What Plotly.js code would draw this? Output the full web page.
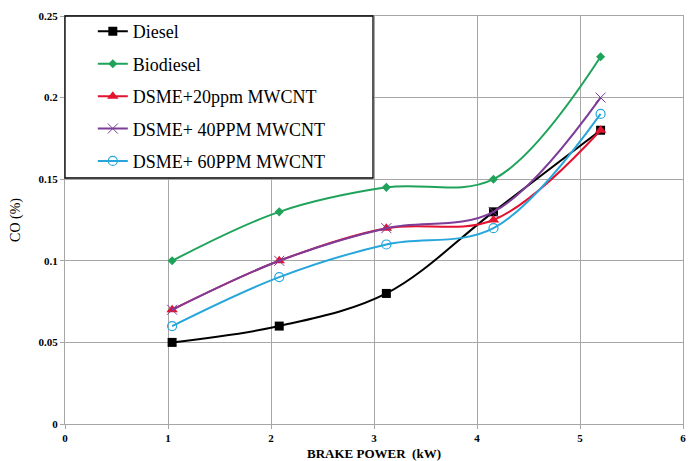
<!DOCTYPE html>
<html>
<head>
<meta charset="utf-8">
<script src="https://cdn.plot.ly/plotly-3.0.1.min.js"></script>
<style>html,body{margin:0;padding:0;background:#fff;}#chart{width:694px;height:461px;}</style>
</head>
<body>
<div id="chart"></div>
<script>
var brakePower = [1.04, 2.08, 3.12, 4.16, 5.2];
var diesel = [0.05, 0.06, 0.08, 0.13, 0.18];
var biodiesel = [0.1, 0.13, 0.145, 0.15, 0.225];
var dsme20 = [0.07, 0.1, 0.12, 0.125, 0.18];
var dsme40 = [0.07, 0.1, 0.12, 0.13, 0.2];
var dsme60 = [0.06, 0.09, 0.11, 0.12, 0.19];
var seriesNames = ['Diesel', 'Biodiesel', 'DSME+20ppm MWCNT', 'DSME+ 40PPM MWCNT', 'DSME+ 60PPM MWCNT'];
var xTickVals = [0, 1, 2, 3, 4, 5, 6];
var yTickVals = [0, 0.05, 0.1, 0.15, 0.2, 0.25];
var yTickText = ['0', '0.05', '0.1', '0.15', '0.2', '0.25'];

function tr(y, name, color, sym, msize, lw, mline) {
  return {
    x: brakePower, y: y, name: name, type: 'scatter', mode: 'lines+markers',
    line: {color: color, width: lw, shape: 'spline', smoothing: 1},
    marker: {symbol: sym, size: msize, color: color, line: mline || {width: 0}},
    legendgroup: name
  };
}
var data = [
  tr(diesel, seriesNames[0], '#000000', 'square', 9, 2),
  tr(biodiesel, seriesNames[1], '#1fa35a', 'diamond', 7, 2),
  tr(dsme20, seriesNames[2], '#e3122e', 'triangle-up', 10, 2),
  tr(dsme40, seriesNames[3], '#7d3c98', 'x-thin', 10, 2, {width: 1, color: '#7d3c98'}),
  tr(dsme60, seriesNames[4], '#27a6dc', 'circle-open', 9, 2, {width: 1.2, color: '#27a6dc'})
];
var serif = 'Liberation Serif, Times New Roman, serif';
var layout = {
  width: 694, height: 461,
  margin: {l: 65, r: 11, t: 16, b: 37},
  paper_bgcolor: '#fff', plot_bgcolor: '#fff',
  showlegend: true,
  legend: {
    x: 0.045, y: 1.007, xanchor: 'left', yanchor: 'top',
    bgcolor: 'rgba(0,0,0,0)', borderwidth: 0,
    font: {family: serif, size: 18, color: '#000'},
    traceorder: 'grouped', tracegroupgap: 6, itemwidth: 30
  },
  shapes: [{
    type: 'rect', xref: 'paper', yref: 'paper', layer: 'above',
    x0: 0, x1: 308/618, y0: 1, y1: 1 - 162/408,
    fillcolor: '#ffffff', line: {color: '#000', width: 1.3}
  }],
  xaxis: {
    range: [0, 6], tickvals: xTickVals, ticktext: xTickVals.map(String),
    showgrid: true, gridcolor: '#a6a6a6', gridwidth: 1,
    showline: true, linecolor: '#a6a6a6', mirror: true, zeroline: false,
    ticks: 'outside', ticklen: 4, tickcolor: '#a6a6a6',
    tickfont: {family: serif, size: 11, color: '#000', weight: 'bold'},
    title: {text: '<b>BRAKE POWER  (kW)</b>', font: {family: serif, size: 13, color: '#000'}, standoff: 6}
  },
  yaxis: {
    range: [0, 0.25], tickvals: yTickVals, ticktext: yTickText,
    showgrid: true, gridcolor: '#a6a6a6', gridwidth: 1,
    showline: true, linecolor: '#a6a6a6', mirror: true, zeroline: false,
    ticks: 'outside', ticklen: 4, tickcolor: '#a6a6a6',
    tickfont: {family: serif, size: 11, color: '#000', weight: 'bold'},
    title: {text: 'CO (%)', font: {family: serif, size: 14, color: '#000'}, standoff: 14}
  }
};
Plotly.newPlot('chart', data, layout, {displayModeBar: false, staticPlot: true});
</script>
</body>
</html>
